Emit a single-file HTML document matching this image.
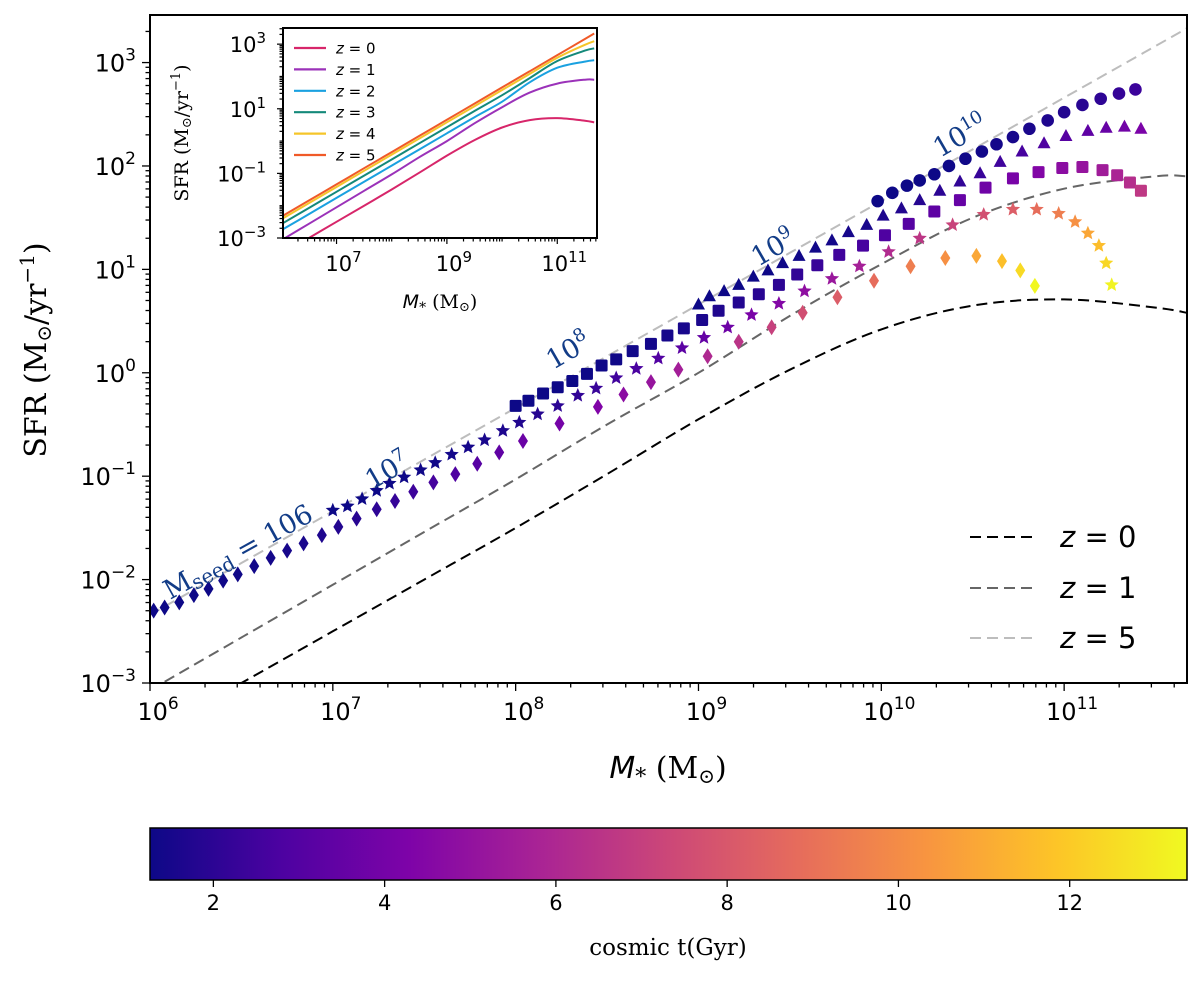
<!DOCTYPE html>
<html><head><meta charset="utf-8"><style>
html,body{margin:0;padding:0;background:#fff;}
svg{display:block;}
</style></head><body>
<svg id="fig" width="1200" height="981" xmlns="http://www.w3.org/2000/svg">
<defs>
<linearGradient id="plasma" x1="0" x2="1" y1="0" y2="0">
<stop offset="0" stop-color="#0d0887"/><stop offset="0.125" stop-color="#4c02a1"/><stop offset="0.25" stop-color="#7e03a8"/><stop offset="0.375" stop-color="#a92395"/><stop offset="0.5" stop-color="#cc4778"/><stop offset="0.625" stop-color="#e66c5c"/><stop offset="0.75" stop-color="#f89540"/><stop offset="0.875" stop-color="#fdc527"/><stop offset="1" stop-color="#f0f921"/>
</linearGradient>
<clipPath id="mainclip"><rect x="150" y="15" width="1037" height="668"/></clipPath>
<clipPath id="insetclip"><rect x="283" y="28" width="314" height="210"/></clipPath>
</defs>
<g id="main"></g>
<g id="inset"></g>
<g id="cbar"></g>
</svg>
<script>
// ---- data (log10 values) ----
const gridLogM = [6,6.5,7,7.5,8,8.5,9,9.5,10,10.5,11,11.5,11.67];
const sfrZ0 = [-3.5,-3.0,-2.5,-2.0,-1.5,-0.98,-0.45,0.03,0.42,0.65,0.71,0.63,0.58];
const sfrZ1 = [-3.07,-2.56,-2.05,-1.54,-1.03,-0.5,0.0,0.55,1.05,1.5,1.78,1.9,1.9];
const sfrZ2 = [-2.76,-2.26,-1.76,-1.26,-0.76,-0.26,0.24,0.74,1.22,1.82,2.27,2.46,2.5];
const sfrZ3 = [-2.57,-2.07,-1.57,-1.07,-0.57,-0.07,0.43,0.93,1.42,1.95,2.48,2.8,2.87];
const sfrZ4 = [-2.42,-1.92,-1.42,-0.92,-0.42,0.08,0.58,1.08,1.58,2.08,2.58,2.98,3.09];
const sfrZ5 = [-2.34,-1.84,-1.34,-0.84,-0.34,0.16,0.66,1.16,1.66,2.16,2.66,3.16,3.33];

const diaM = [6.02,6.08,6.16,6.24,6.32,6.40,6.48,6.57,6.66,6.75,6.84,6.94,7.03,7.13,7.24,7.34,7.44,7.55,7.67,7.79,7.91,8.04,8.24,8.45,8.59,8.74,8.89,9.05,9.22,9.40,9.57,9.76,9.96,10.16,10.35,10.52,10.66,10.76,10.84];
const diaS = [-2.30,-2.27,-2.22,-2.15,-2.09,-2.01,-1.95,-1.87,-1.79,-1.72,-1.65,-1.57,-1.49,-1.41,-1.32,-1.24,-1.15,-1.06,-0.98,-0.88,-0.77,-0.66,-0.49,-0.33,-0.21,-0.09,0.03,0.16,0.30,0.44,0.58,0.73,0.89,1.03,1.11,1.13,1.08,0.99,0.84];
const starM = [7.0,7.08,7.16,7.24,7.31,7.39,7.48,7.56,7.65,7.74,7.83,7.93,8.02,8.12,8.23,8.34,8.44,8.55,8.66,8.78,8.91,9.03,9.16,9.29,9.44,9.58,9.73,9.88,10.04,10.21,10.39,10.56,10.72,10.85,10.97,11.06,11.13,11.19,11.23,11.26];
const starS = [-1.33,-1.29,-1.22,-1.14,-1.07,-1.01,-0.94,-0.87,-0.79,-0.72,-0.65,-0.56,-0.48,-0.40,-0.32,-0.22,-0.15,-0.05,0.04,0.14,0.24,0.34,0.44,0.56,0.67,0.79,0.91,1.03,1.17,1.30,1.43,1.53,1.58,1.58,1.54,1.46,1.35,1.23,1.06,0.85];
const sqM = [8.0,8.07,8.15,8.23,8.31,8.39,8.47,8.55,8.64,8.74,8.83,8.92,9.02,9.11,9.22,9.33,9.44,9.54,9.65,9.77,9.90,10.02,10.15,10.29,10.43,10.57,10.72,10.86,10.99,11.10,11.21,11.29,11.36,11.42];
const sqS = [-0.32,-0.27,-0.20,-0.14,-0.08,-0.01,0.07,0.13,0.21,0.28,0.36,0.43,0.51,0.60,0.68,0.76,0.85,0.95,1.04,1.14,1.23,1.33,1.44,1.56,1.67,1.79,1.88,1.94,1.98,1.99,1.96,1.91,1.84,1.76];
const triM = [9.0,9.06,9.14,9.22,9.30,9.38,9.46,9.55,9.64,9.73,9.82,9.92,10.01,10.11,10.21,10.32,10.43,10.54,10.65,10.77,10.89,11.01,11.13,11.23,11.33,11.42];
const triS = [0.66,0.74,0.79,0.85,0.93,0.99,1.06,1.13,1.21,1.28,1.36,1.43,1.52,1.59,1.67,1.76,1.85,1.93,2.04,2.14,2.22,2.29,2.34,2.37,2.38,2.36];
const circM = [9.98,10.06,10.14,10.21,10.29,10.37,10.46,10.55,10.63,10.72,10.81,10.91,11.00,11.10,11.20,11.30,11.39];
const circS = [1.66,1.74,1.81,1.86,1.92,2.00,2.07,2.14,2.21,2.28,2.36,2.44,2.52,2.59,2.65,2.70,2.74];
const seriesTStart = [1.25,1.25,1.25,1.25,1.25];
const seriesTEnd = [13.3,13.2,6.7,4.2,2.4];
const seriesNames = ['seed-1e6-diamonds','seed-1e7-stars','seed-1e8-squares','seed-1e9-triangles','seed-1e10-circles'];
const cbarTicks = [2,4,6,8,10,12];
const xTickExp = [6,7,8,9,10,11];
const yTickExp = [-3,-2,-1,0,1,2,3];
const insetXTickExp = [7,9,11];
const insetYTickExp = [-3,-1,1,3];
const zLabels = ['0','1','2','3','4','5'];

const NS='http://www.w3.org/2000/svg';
function mk(tag,attrs,parent){const e=document.createElementNS(NS,tag);for(const k in attrs)e.setAttribute(k,attrs[k]);if(parent)parent.appendChild(e);return e;}

const MX0=6,MX1=11.672,MY0=-3,MY1=3.46;
const mx=v=>150+(v-MX0)/(MX1-MX0)*1037;
const my=v=>683-(v-MY0)/(MY1-MY0)*668;
const IX0=6.03,IX1=11.72,IY0=-3,IY1=3.5;
const ix=v=>283+(v-IX0)/(IX1-IX0)*314;
const iy=v=>238-(v-IY0)/(IY1-IY0)*210;
const CT0=1.26,CT1=13.37;
const cx=t=>150+(t-CT0)/(CT1-CT0)*1037;

const stops=[[13,8,135],[76,2,161],[126,3,168],[169,35,149],[204,71,120],[230,108,92],[248,149,64],[253,197,39],[240,249,33]];
function plasma(f){f=Math.max(0,Math.min(1,f));const p=f*8;const i=Math.min(7,Math.floor(p));const u=p-i;const a=stops[i],b=stops[i+1];return 'rgb('+[0,1,2].map(k=>Math.round(a[k]+(b[k]-a[k])*u)).join(',')+')';}

const main=document.getElementById('main');
const inset=document.getElementById('inset');
const cbar=document.getElementById('cbar');

// smooth catmull-rom path
function smoothPath(xs,ys,fx,fy){
  const P=xs.map((v,i)=>[fx(v),fy(ys[i])]);
  let d='M'+P[0][0].toFixed(1)+','+P[0][1].toFixed(1);
  for(let i=0;i<P.length-1;i++){
    const p0=P[Math.max(0,i-1)],p1=P[i],p2=P[i+1],p3=P[Math.min(P.length-1,i+2)];
    const c1=[p1[0]+(p2[0]-p0[0])/6,p1[1]+(p2[1]-p0[1])/6];
    const c2=[p2[0]-(p3[0]-p1[0])/6,p2[1]-(p3[1]-p1[1])/6];
    d+='C'+c1[0].toFixed(1)+','+c1[1].toFixed(1)+' '+c2[0].toFixed(1)+','+c2[1].toFixed(1)+' '+p2[0].toFixed(1)+','+p2[1].toFixed(1);
  }
  return d;
}

const gc=mk('g',{'clip-path':'url(#mainclip)'},main);
const mainCurves=[[sfrZ0,'#000000','z0'],[sfrZ1,'#666666','z1'],[sfrZ5,'#bdbdbd','z5']];
mainCurves.forEach(c=>{
  const p=mk('path',{d:smoothPath(gridLogM,c[0],mx,my),fill:'none',stroke:c[1],'stroke-width':2,'stroke-dasharray':'11,6'},gc);
  
  
});

const seriesM=[diaM,starM,sqM,triM,circM];
const seriesS=[diaS,starS,sqS,triS,circS];
function starPath(x,y,r){let d='';for(let k=0;k<10;k++){const a=-Math.PI/2+k*Math.PI/5;const rr=k%2?r*0.45:r;d+=(k?'L':'M')+(x+rr*Math.cos(a)).toFixed(1)+','+(y+rr*Math.sin(a)).toFixed(1);}return d+'Z';}
seriesM.forEach((ms,s)=>{
  const g=mk('g',{},gc);
  
  
  const n=ms.length;
  ms.forEach((m,i)=>{
    const t=seriesTStart[s]+(seriesTEnd[s]-seriesTStart[s])*Math.pow(i/(n-1),2.7);
    const col=plasma((t-CT0)/(CT1-CT0));
    const x=mx(m),y=my(seriesS[s][i]);
    let e;
    if(s===0) e=mk('path',{d:`M${x},${y-8}L${x+5},${y}L${x},${y+8}L${x-5},${y}Z`,fill:col},g);
    else if(s===1) e=mk('path',{d:starPath(x,y,7.5),fill:col},g);
    else if(s===2) e=mk('rect',{x:x-6,y:y-6,width:12,height:12,rx:1.5,fill:col},g);
    else if(s===3) e=mk('path',{d:`M${x},${y-7}L${x+6.5},${y+5}L${x-6.5},${y+5}Z`,fill:col},g);
    else e=mk('circle',{cx:x,cy:y,r:6.3,fill:col},g);
    
    
  });
});

const annots=[['M','seed',' = 10','6',170,600,-29,27],['10','7','','',372,490,-30,27],['10','8','','',553,370,-30,27],['10','9','','',758,267,-30,27],['10','10','','',940,158,-30,27]];
annots.forEach((a,k)=>{
  const t=mk('text',{x:a[4],y:a[5],transform:`rotate(${a[6]} ${a[4]} ${a[5]})`,fill:'#123c87','font-family':'DejaVu Serif, Liberation Serif, serif','font-size':a[7]},main);
  
  
  if(k===0){t.textContent='M';const s1=mk('tspan',{'font-size':20,dy:4},t);s1.textContent='seed';const s2=mk('tspan',{dy:-4},t);s2.textContent=' = 10';const s3=mk('tspan',{'font-size':27},t);s3.textContent='6';}
  else{t.textContent='10';const s=mk('tspan',{'font-size':18,dy:-11},t);s.textContent=a[1];}
});

const fr=mk('rect',{x:150,y:15,width:1037,height:668,fill:'none',stroke:'#000','stroke-width':2},main);

const tk=mk('g',{stroke:'#000','stroke-width':1.3},main);
for(let d=6;d<=11;d++){for(let m=1;m<10;m++){const v=d+Math.log10(m);if(v>MX1)break;const x=mx(v);mk('line',{x1:x,x2:x,y1:683,y2:683+(m===1?8:4.5)},tk);}}
for(let d=-3;d<=3;d++){for(let m=1;m<10;m++){const v=d+Math.log10(m);if(v>MY1)break;const y=my(v);mk('line',{x1:150,x2:150-(m===1?8:4.5),y1:y,y2:y},tk);}}
xTickExp.forEach(e=>{const t=mk('text',{x:mx(e)+8,y:720,'text-anchor':'middle','font-family':'DejaVu Sans, Liberation Sans, sans-serif','font-size':24},main);t.textContent='10';const s=mk('tspan',{'font-size':17,dy:-11},t);s.textContent=e;});
yTickExp.forEach(e=>{const t=mk('text',{x:136,y:my(e)+9,'text-anchor':'end','font-family':'DejaVu Sans, Liberation Sans, sans-serif','font-size':24},main);t.textContent='10';const s=mk('tspan',{'font-size':17,dy:-11},t);s.textContent=(e<0?'\u2212'+(-e):e);});
const xl=mk('text',{x:668,y:778,'text-anchor':'middle','font-family':'DejaVu Serif, Liberation Serif, serif','font-size':30},main);

xl.innerHTML='<tspan font-family="DejaVu Sans, sans-serif" font-style="italic">M</tspan><tspan font-size="22" dy="6">*</tspan><tspan dy="-6"> (M</tspan><tspan font-size="20" dy="5">⊙</tspan><tspan dy="-5">)</tspan>';
const yl=mk('text',{x:0,y:0,transform:'translate(46,350) rotate(-90)','text-anchor':'middle','font-family':'DejaVu Serif, Liberation Serif, serif','font-size':30},main);

yl.innerHTML='SFR (M<tspan font-size="20" dy="5">⊙</tspan><tspan dy="-5">/yr</tspan><tspan font-size="20" dy="-12">−1</tspan><tspan dy="12">)</tspan>';

const lg=mk('g',{},main);
[['#000','0',537],['#666','1',588],['#bdbdbd','5',638]].forEach(r=>{
  const e=mk('g',{},lg);
  mk('line',{x1:970,x2:1032,y1:r[2],y2:r[2],stroke:r[0],'stroke-width':2,'stroke-dasharray':'11,6'},e);
  const t=mk('text',{x:1060,y:r[2]+10,'font-family':'DejaVu Sans, sans-serif','font-size':29},e);
  t.innerHTML='<tspan font-style="italic">z</tspan> = '+r[1];
});

mk('rect',{x:283,y:28,width:314,height:210,fill:'#fff'},inset);
const ic=mk('g',{'clip-path':'url(#insetclip)'},inset);
const insetCurves=[sfrZ0,sfrZ1,sfrZ2,sfrZ3,sfrZ4,sfrZ5];
const insetCols=['#d7266a','#9b32b9','#1aa1e0','#14897a','#f5c52a','#f05a28'];
insetCurves.forEach((c,k)=>{const p=mk('path',{d:smoothPath(gridLogM,c,ix,iy),fill:'none',stroke:insetCols[k],'stroke-width':2},ic);});
const ifr=mk('rect',{x:283,y:28,width:314,height:210,fill:'none',stroke:'#000','stroke-width':2},inset);

const itk=mk('g',{stroke:'#000','stroke-width':1.2},inset);
for(let d=6;d<=11;d++){for(let m=1;m<10;m++){const v=d+Math.log10(m);if(v<IX0||v>IX1)continue;const x=ix(v);mk('line',{x1:x,x2:x,y1:238,y2:238+(m===1&&d%2===1?6:3.5)},itk);}}
for(let d=-3;d<=3;d++){for(let m=1;m<10;m++){const v=d+Math.log10(m);if(v>IY1)continue;const y=iy(v);mk('line',{x1:283,x2:283-(m===1&&d%2!==0?6:3.5),y1:y,y2:y},itk);}}
insetXTickExp.forEach(e=>{const t=mk('text',{x:ix(e)+7,y:271,'text-anchor':'middle','font-family':'DejaVu Sans, sans-serif','font-size':21},inset);t.textContent='10';const s=mk('tspan',{'font-size':15,dy:-9},t);s.textContent=e;});
insetYTickExp.forEach(e=>{const t=mk('text',{x:266,y:iy(e)+8,'text-anchor':'end','font-family':'DejaVu Sans, sans-serif','font-size':21},inset);t.textContent='10';const s=mk('tspan',{'font-size':15,dy:-9},t);s.textContent=(e<0?'\u2212'+(-e):e);});
const ixl=mk('text',{x:440,y:308,'text-anchor':'middle','font-family':'DejaVu Serif, serif','font-size':19},inset);

ixl.innerHTML='<tspan font-family="DejaVu Sans, sans-serif" font-style="italic">M</tspan><tspan font-size="14" dy="4">*</tspan><tspan dy="-4"> (M</tspan><tspan font-size="13" dy="3">⊙</tspan><tspan dy="-3">)</tspan>';
const iyl=mk('text',{x:0,y:0,transform:'translate(188,133) rotate(-90)','text-anchor':'middle','font-family':'DejaVu Serif, serif','font-size':19},inset);

iyl.innerHTML='SFR (M<tspan font-size="13" dy="3">⊙</tspan><tspan dy="-3">/yr</tspan><tspan font-size="13" dy="-8">−1</tspan><tspan dy="8">)</tspan>';
const ilg=mk('g',{},inset);
zLabels.forEach((z,k)=>{const y=48+k*21.4;const e=mk('g',{},ilg);mk('line',{x1:294,x2:326,y1:y,y2:y,stroke:insetCols[k],'stroke-width':2.2},e);const t=mk('text',{x:336,y:y+5.5,'font-family':'DejaVu Sans, sans-serif','font-size':15},e);t.innerHTML='<tspan font-style="italic">z</tspan> = '+z;});

const cr=mk('rect',{x:150,y:828,width:1037,height:52,fill:'url(#plasma)',stroke:'#000','stroke-width':1.5},cbar);

cbarTicks.forEach(v=>{const x=cx(v);mk('line',{x1:x,x2:x,y1:880,y2:887,stroke:'#000','stroke-width':1.3},cbar);const t=mk('text',{x:x,y:910,'text-anchor':'middle','font-family':'DejaVu Sans, sans-serif','font-size':21},cbar);t.textContent=v;});
const cl=mk('text',{x:668,y:955,'text-anchor':'middle','font-family':'DejaVu Serif, Liberation Serif, serif','font-size':23},cbar);
cl.textContent='cosmic t(Gyr)';
</script>
</body></html>
